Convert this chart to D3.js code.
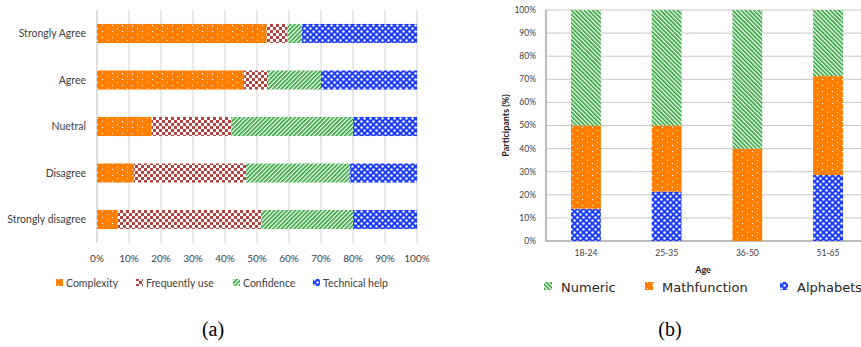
<!DOCTYPE html>
<html>
<head>
<meta charset="utf-8">
<script src="https://cdn.jsdelivr.net/npm/d3@7"></script>
<style>
  body { margin: 0; background: #fff; }
</style>
</head>
<body>
<div id="chart"></div>
<script>
// (a) answers per agreement level, % of respondents
const levels = ["Strongly Agree", "Agree", "Nuetral", "Disagree", "Strongly disagree"];
const aspects = ["Complexity", "Frequently use", "Confidence", "Technical help"];
const complexity = [53, 46, 17, 11.6, 6.5];
const frequentlyUse = [6.5, 7.5, 25, 35, 45];
const confidence = [4.5, 16.5, 38, 32.5, 28.5];
const technicalHelp = [36, 30, 20, 20.9, 20];
const xTicksA = [0, 10, 20, 30, 40, 50, 60, 70, 80, 90, 100];

// (b) input style per age group, % of participants
const ages = ["18-24", "25-35", "36-50", "51-65"];
const inputs = ["Alphabets", "Mathfunction", "Numeric"];
const alphabets = [14, 21.4, 0, 28.6];
const mathfunction = [36, 28.6, 40, 42.8];
const numeric = [50, 50, 60, 28.6];
const yTicksB = [0, 10, 20, 30, 40, 50, 60, 70, 80, 90, 100];

const width = 861, height = 347;
const sans = "Lato, 'Open Sans', sans-serif";
const svg = d3.select("#chart").append("svg")
    .attr("width", width)
    .attr("height", height)
    .style("font-family", sans);

// fill patterns
const defs = svg.append("defs");
const pDots = defs.append("pattern").attr("id", "p-dots")
    .attr("patternUnits", "userSpaceOnUse").attr("width", 10).attr("height", 6);
pDots.append("rect").attr("width", 10).attr("height", 6).attr("fill", "#ff7f00");
pDots.append("rect").attr("x", 2).attr("y", 1).attr("width", 1).attr("height", 1).attr("fill", "#fff");
pDots.append("rect").attr("x", 7).attr("y", 4).attr("width", 1).attr("height", 1).attr("fill", "#fff");

const pCheck = defs.append("pattern").attr("id", "p-check")
    .attr("patternUnits", "userSpaceOnUse").attr("width", 6).attr("height", 6);
pCheck.append("rect").attr("width", 6).attr("height", 6).attr("fill", "#fff");
pCheck.append("rect").attr("width", 3).attr("height", 3).attr("fill", "#b3433e");
pCheck.append("rect").attr("x", 3).attr("y", 3).attr("width", 3).attr("height", 3).attr("fill", "#b3433e");

function stripes(id, angle) {
  const p = defs.append("pattern").attr("id", id)
      .attr("patternUnits", "userSpaceOnUse").attr("width", 3).attr("height", 3)
      .attr("patternTransform", `rotate(${angle})`);
  p.append("rect").attr("width", 3).attr("height", 3).attr("fill", "#fff");
  p.append("rect").attr("width", 1.6).attr("height", 3).attr("fill", "#23a02d");
}
stripes("p-fwd", 45);
stripes("p-back", -45);

const pCirc = defs.append("pattern").attr("id", "p-circ")
    .attr("patternUnits", "userSpaceOnUse").attr("width", 6).attr("height", 6);
pCirc.append("rect").attr("width", 6).attr("height", 6).attr("fill", "#1c3dff");
pCirc.append("circle").attr("cx", 1.5).attr("cy", 1.5).attr("r", 1.2).attr("fill", "#fff");
pCirc.append("circle").attr("cx", 4.5).attr("cy", 4.5).attr("r", 1.2).attr("fill", "#fff");

// ---------- chart (a) ----------
const fillA = ["url(#p-dots)", "url(#p-check)", "url(#p-fwd)", "url(#p-circ)"];
const rowsA = levels.map((l, i) => ({
  level: l,
  "Complexity": complexity[i],
  "Frequently use": frequentlyUse[i],
  "Confidence": confidence[i],
  "Technical help": technicalHelp[i]
}));

const gA = svg.append("g");
const xA = d3.scaleLinear().domain([0, 100]).range([97, 417]);
const yA = d3.scaleBand().domain(levels).range([10, 243]).paddingInner(0.59).paddingOuter(0.3);

gA.selectAll(".gridA").data(xTicksA).enter().append("line")
    .attr("x1", d => xA(d)).attr("x2", d => xA(d))
    .attr("y1", 10).attr("y2", 243)
    .attr("stroke", d => d === 0 ? "#bdbdbd" : "#d4d4d4")
    .attr("stroke-width", 1);

const stackA = d3.stack().keys(aspects)(rowsA);
gA.selectAll(".serA").data(stackA).enter().append("g")
    .attr("fill", (d, i) => fillA[i])
  .selectAll("rect").data(d => d).enter().append("rect")
    .attr("x", d => xA(d[0]))
    .attr("width", d => xA(d[1]) - xA(d[0]))
    .attr("y", d => yA(d.data.level))
    .attr("height", yA.bandwidth());

gA.selectAll(".catA").data(levels).enter().append("text")
    .attr("x", 86)
    .attr("y", d => yA(d) + yA.bandwidth() / 2)
    .attr("dy", "0.35em")
    .attr("text-anchor", "end")
    .attr("font-size", 10.5)
    .attr("fill", "#404040")
    .text(d => d);

gA.selectAll(".tickA").data(xTicksA).enter().append("text")
    .attr("x", d => xA(d))
    .attr("y", 262)
    .attr("text-anchor", "middle")
    .attr("font-size", 10)
    .attr("fill", "#404040")
    .text(d => d + "%");

const legA = gA.selectAll(".legA").data(aspects).enter().append("g")
    .attr("transform", (d, i) => `translate(${[56, 136, 233, 313][i]},278)`);
legA.append("rect").attr("width", 7).attr("height", 7).attr("y", 1)
    .attr("fill", (d, i) => fillA[i]);
legA.append("text").attr("x", 10).attr("y", 8.5)
    .attr("font-size", 10.5).attr("fill", "#404040")
    .text(d => d);

// ---------- chart (b) ----------
const fillB = ["url(#p-circ)", "url(#p-dots)", "url(#p-back)"];
const rowsB = ages.map((a, i) => ({
  age: a,
  "Alphabets": alphabets[i],
  "Mathfunction": mathfunction[i],
  "Numeric": numeric[i]
}));

const gB = svg.append("g");
const yB = d3.scaleLinear().domain([0, 100]).range([241, 10]);
const xB = d3.scaleBand().domain(ages).range([546, 868]).paddingInner(0.63).paddingOuter(0.31);

gB.selectAll(".gridB").data(yTicksB).enter().append("line")
    .attr("x1", 546).attr("x2", width)
    .attr("y1", d => yB(d)).attr("y2", d => yB(d))
    .attr("stroke", d => d === 0 ? "#a6a6a6" : "#c8c8c8")
    .attr("stroke-width", d => d === 0 ? 1.5 : 1);
gB.append("line")
    .attr("x1", 546).attr("x2", 546)
    .attr("y1", yB(100)).attr("y2", yB(0))
    .attr("stroke", "#a6a6a6").attr("stroke-width", 1.5);

const stackB = d3.stack().keys(inputs)(rowsB);
gB.selectAll(".serB").data(stackB).enter().append("g")
    .attr("fill", (d, i) => fillB[i])
  .selectAll("rect").data(d => d).enter().append("rect")
    .attr("x", d => xB(d.data.age))
    .attr("width", xB.bandwidth())
    .attr("y", d => yB(d[1]))
    .attr("height", d => yB(d[0]) - yB(d[1]));

gB.selectAll(".tickB").data(yTicksB).enter().append("text")
    .attr("x", 536)
    .attr("y", d => yB(d))
    .attr("dy", "0.35em")
    .attr("text-anchor", "end")
    .attr("font-size", 8.5)
    .attr("fill", "#404040")
    .text(d => d + "%");

gB.selectAll(".catB").data(ages).enter().append("text")
    .attr("x", d => xB(d) + xB.bandwidth() / 2)
    .attr("y", 256)
    .attr("text-anchor", "middle")
    .attr("font-size", 8.5)
    .attr("fill", "#404040")
    .text(d => d);

gB.append("text")
    .attr("x", 703).attr("y", 273)
    .attr("text-anchor", "middle")
    .attr("font-size", 9).attr("font-weight", "bold")
    .attr("fill", "#262626")
    .text("Age");

gB.append("text")
    .attr("transform", `translate(509,${yB(50)}) rotate(-90)`)
    .attr("text-anchor", "middle")
    .attr("font-size", 9).attr("font-weight", "bold")
    .attr("fill", "#262626")
    .text("Participants (%)");

const legOrder = ["Numeric", "Mathfunction", "Alphabets"];
const legB = gB.selectAll(".legB").data(legOrder).enter().append("g")
    .attr("transform", (d, i) => `translate(${[544, 645, 780][i]},281)`);
legB.append("rect").attr("width", 8).attr("height", 8).attr("y", 1)
    .attr("fill", d => fillB[inputs.indexOf(d)]);
legB.append("text").attr("x", 17).attr("y", 10.5)
    .style("font-family", "'DejaVu Sans', sans-serif")
    .attr("font-size", 13).attr("fill", "#262626")
    .text(d => d);

// captions
svg.selectAll(".cap").data(["(a)", "(b)"]).enter().append("text")
    .attr("x", (d, i) => [213, 670][i]).attr("y", 336)
    .attr("text-anchor", "middle")
    .style("font-family", "'Liberation Serif', serif")
    .attr("font-size", 20)
    .attr("fill", "#000")
    .text(d => d);
</script>
</body>
</html>
